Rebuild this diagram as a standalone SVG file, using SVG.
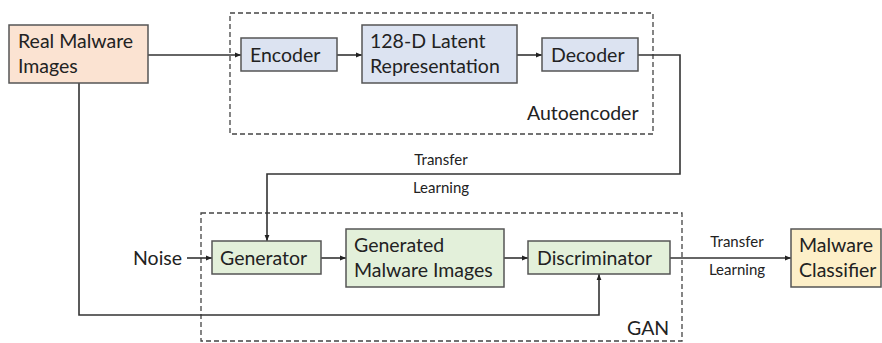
<svg xmlns="http://www.w3.org/2000/svg" width="882" height="343" viewBox="0 0 882 343">
<defs>
<style>
.box{stroke:#555;stroke-width:1.5}
.peach{fill:#FBE3D2}
.blue{fill:#DCE3F1}
.green{fill:#E3F0DA}
.yellow{fill:#FDEFC8}
.t{font-family:Lato,"Open Sans",sans-serif;font-size:19.5px;fill:#222}
.s{font-family:Lato,"Open Sans",sans-serif;font-size:15px;fill:#222}
.dash{fill:none;stroke:#444;stroke-width:1.3;stroke-dasharray:5,3}
.line{fill:none;stroke:#333;stroke-width:1.6}
</style>
<marker id="ah" viewBox="0 0 10 10" refX="10" refY="5" markerWidth="6" markerHeight="6" orient="auto" markerUnits="userSpaceOnUse">
<path d="M0,1 L10,5 L0,9 z" fill="#222"/>
</marker>
</defs>
<rect width="882" height="343" fill="#fff"/>
<g id="autoencoder-group">
<rect class="dash" x="230" y="13" width="423" height="121"/>
<text class="t" x="527" y="120">Autoencoder</text>
</g>
<g id="gan-group">
<rect class="dash" x="201" y="213" width="481" height="128"/>
<text class="t" x="627" y="335">GAN</text>
</g>
<g id="connectors">
<path class="line" d="M148,55 L241,55" marker-end="url(#ah)"/>
<path class="line" d="M337,55 L362,55" marker-end="url(#ah)"/>
<path class="line" d="M517,55 L542,55" marker-end="url(#ah)"/>
<path class="line" d="M638,55 L680,55 L680,174 L267,174 L267,241" marker-end="url(#ah)"/>
<path class="line" d="M187,258 L212,258" marker-end="url(#ah)"/>
<path class="line" d="M321,258 L346,258" marker-end="url(#ah)"/>
<path class="line" d="M504,258 L528,258" marker-end="url(#ah)"/>
<path class="line" d="M670,258 L791,258" marker-end="url(#ah)"/>
<path class="line" d="M79,83 L79,315 L599,315 L599,274" marker-end="url(#ah)"/>
<text class="s" x="441" y="165" text-anchor="middle">Transfer</text>
<text class="s" x="441" y="193" text-anchor="middle">Learning</text>
<text class="s" x="737" y="247" text-anchor="middle">Transfer</text>
<text class="s" x="737" y="275" text-anchor="middle">Learning</text>
</g>
<g id="real-malware-images">
<rect class="box peach" x="9" y="25" width="139" height="58"/>
<text class="t" x="18" y="48">Real Malware</text>
<text class="t" x="18" y="73">Images</text>
</g>
<g id="encoder">
<rect class="box blue" x="241" y="38" width="96" height="33"/>
<text class="t" x="250" y="62">Encoder</text>
</g>
<g id="latent">
<rect class="box blue" x="362" y="25" width="155" height="58"/>
<text class="t" x="370" y="48">128-D Latent</text>
<text class="t" x="370" y="73">Representation</text>
</g>
<g id="decoder">
<rect class="box blue" x="542" y="38" width="96" height="33"/>
<text class="t" x="551" y="62">Decoder</text>
</g>
<g id="noise">
<text class="t" x="133" y="265">Noise</text>
</g>
<g id="generator">
<rect class="box green" x="212" y="241" width="109" height="33"/>
<text class="t" x="220" y="265">Generator</text>
</g>
<g id="generated-images">
<rect class="box green" x="346" y="229" width="158" height="58"/>
<text class="t" x="354" y="252">Generated</text>
<text class="t" x="354" y="277">Malware Images</text>
</g>
<g id="discriminator">
<rect class="box green" x="528" y="241" width="142" height="33"/>
<text class="t" x="537" y="265">Discriminator</text>
</g>
<g id="malware-classifier">
<rect class="box yellow" x="791" y="229" width="90" height="58"/>
<text class="t" x="799" y="252">Malware</text>
<text class="t" x="799" y="277">Classifier</text>
</g>
</svg>
